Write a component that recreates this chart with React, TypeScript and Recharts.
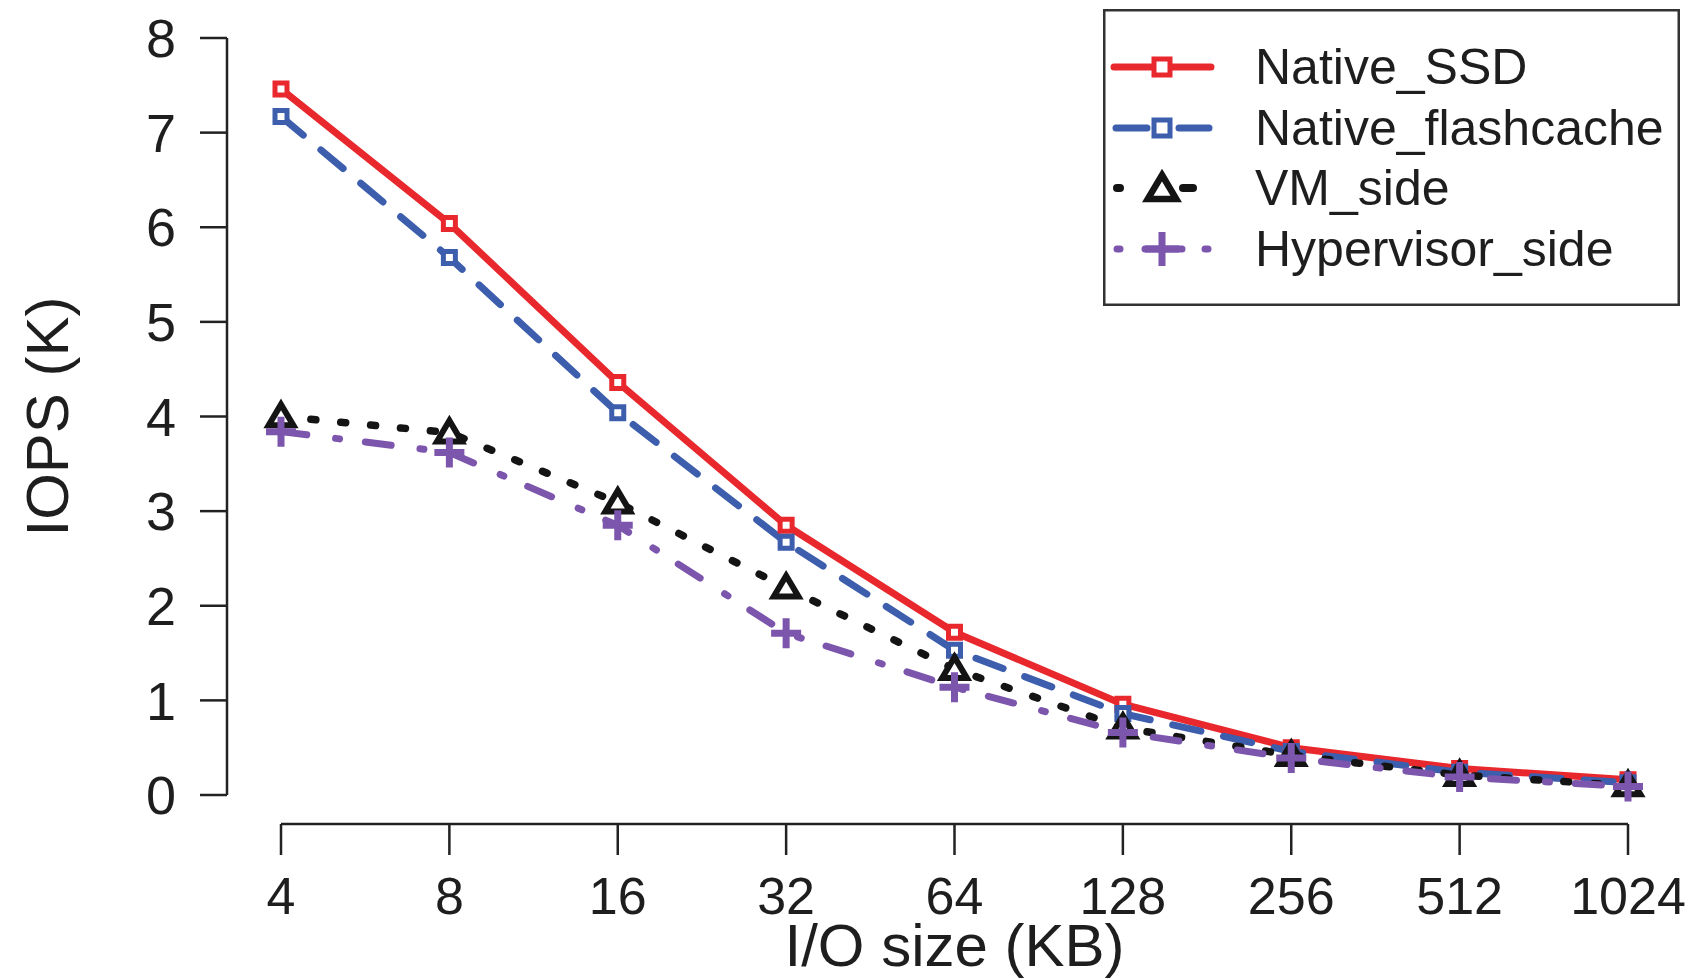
import React from 'react';
import { LineChart, Line, XAxis, YAxis, Legend, ReferenceLine, Label } from 'recharts';

// ---- data ----
const ioSizes = ['4', '8', '16', '32', '64', '128', '256', '512', '1024'];
const nativeSSD = [7.46, 6.04, 4.36, 2.85, 1.72, 0.96, 0.5, 0.28, 0.16];
const nativeFlashcache = [7.17, 5.68, 4.04, 2.67, 1.53, 0.86, 0.46, 0.24, 0.13];
const vmSide = [4.0, 3.83, 3.09, 2.19, 1.33, 0.71, 0.42, 0.21, 0.1];
const hypervisorSide = [3.84, 3.62, 2.85, 1.71, 1.14, 0.66, 0.39, 0.19, 0.09];
const yTicks = [0, 1, 2, 3, 4, 5, 6, 7, 8];
const seriesNames = ['Native_SSD', 'Native_flashcache', 'VM_side', 'Hypervisor_side'];
const xTitle = 'I/O size (KB)';
const yTitle = 'IOPS (K)';

const data = ioSizes.map((s, i) => ({
  size: s,
  nativeSSD: nativeSSD[i],
  nativeFlashcache: nativeFlashcache[i],
  vmSide: vmSide[i],
  hypervisorSide: hypervisorSide[i],
}));

// ---- style ----
const FONT = '"Liberation Sans", Arial, Helvetica, sans-serif';
const RED = '#e8282c';
const BLUE = '#3d5ead';
const BLACK = '#141414';
const PURPLE = '#7c55ad';
const AXIS = '#222';
const TEXT = '#1e1e1e';
const X_AXIS_LINE_AT = -0.3066; // R-style detached x axis, below 0

const squarePath = (cx: number, cy: number, h: number) =>
  `M${cx - h},${cy - h} H${cx + h} V${cy + h} H${cx - h} Z`;
const triPath = (cx: number, cy: number, r: number) =>
  `M${cx},${cy - r} L${cx + r * 0.95},${cy + r * 0.6} L${cx - r * 0.95},${cy + r * 0.6} Z`;
const plusPath = (cx: number, cy: number, r: number) =>
  `M${cx - r},${cy} H${cx + r} M${cx},${cy - r} V${cy + r}`;

const squareDot = (color: string) => (p: any) => {
  const { cx, cy, index } = p;
  if (cx == null || cy == null) return <g key={`sq-${color}-${index}`} />;
  return (
    <path key={`sq-${color}-${index}`} d={squarePath(cx, cy, 6)} fill="#fff" stroke={color} strokeWidth={5} />
  );
};
const triDot = (p: any) => {
  const { cx, cy, index } = p;
  if (cx == null || cy == null) return <g key={`tri-${index}`} />;
  return (
    <path key={`tri-${index}`} d={triPath(cx, cy + 1, 13)} fill="#fff" stroke={BLACK} strokeWidth={6} strokeLinejoin="miter" />
  );
};
const plusDot = (p: any) => {
  const { cx, cy, index } = p;
  if (cx == null || cy == null) return <g key={`plus-${index}`} />;
  return <path key={`plus-${index}`} d={plusPath(cx, cy, 15)} fill="none" stroke={PURPLE} strokeWidth={7} />;
};

const renderXTick = (p: any) => {
  const { x, y, payload } = p;
  return (
    <g>
      <line x1={x} x2={x} y1={y + 29} y2={y + 60} stroke={AXIS} strokeWidth={2.5} />
      <text x={x} y={y + 119} textAnchor="middle" fontSize={52} fill={TEXT} fontFamily={FONT}>
        {payload.value}
      </text>
    </g>
  );
};

const renderXTitle = (p: any) => {
  const vb = p.viewBox || {};
  return (
    <text x={vb.x + vb.width / 2} y={vb.y + 171} textAnchor="middle" fontSize={60} fill={TEXT} fontFamily={FONT}>
      {xTitle}
    </text>
  );
};

const renderYTitle = (p: any) => {
  const vb = p.viewBox || {};
  const x = vb.x + 68;
  const y = vb.y + vb.height / 2;
  return (
    <text x={x} y={y} transform={`rotate(-90, ${x}, ${y})`} textAnchor="middle" fontSize={60} fill={TEXT} fontFamily={FONT}>
      {yTitle}
    </text>
  );
};

const LegendBox = () => {
  const rows = [58, 119, 179, 240];
  const mx = 59;
  const tx = 152;
  return (
    <svg width={577} height={297} style={{ display: 'block' }}>
      <rect x={1.25} y={1.25} width={574.5} height={294.5} fill="#fff" stroke="#333" strokeWidth={2.5} />
      {/* Native_SSD */}
      <line x1={11} x2={108} y1={rows[0]} y2={rows[0]} stroke={RED} strokeWidth={7} strokeLinecap="round" />
      <path d={squarePath(mx, rows[0], 8)} fill="#fff" stroke={RED} strokeWidth={5} />
      {/* Native_flashcache */}
      <line x1={13} x2={44} y1={rows[1]} y2={rows[1]} stroke={BLUE} strokeWidth={7} strokeLinecap="round" />
      <line x1={76} x2={106} y1={rows[1]} y2={rows[1]} stroke={BLUE} strokeWidth={7} strokeLinecap="round" />
      <path d={squarePath(mx, rows[1], 8)} fill="#fff" stroke={BLUE} strokeWidth={5} />
      {/* VM_side */}
      <line x1={14} x2={17} y1={rows[2]} y2={rows[2]} stroke={BLACK} strokeWidth={8} strokeLinecap="round" />
      <line x1={80} x2={90} y1={rows[2]} y2={rows[2]} stroke={BLACK} strokeWidth={8} strokeLinecap="round" />
      <path d={triPath(mx, rows[2] + 2, 15)} fill="#fff" stroke={BLACK} strokeWidth={6.5} />
      {/* Hypervisor_side */}
      <line x1={14} x2={17} y1={rows[3]} y2={rows[3]} stroke={PURPLE} strokeWidth={7} strokeLinecap="round" />
      <line x1={42} x2={79} y1={rows[3]} y2={rows[3]} stroke={PURPLE} strokeWidth={7} strokeLinecap="round" />
      <line x1={102} x2={105} y1={rows[3]} y2={rows[3]} stroke={PURPLE} strokeWidth={7} strokeLinecap="round" />
      <path d={plusPath(mx, rows[3], 17)} fill="none" stroke={PURPLE} strokeWidth={7} />
      {seriesNames.map((n, i) => (
        <text key={n} x={tx} y={rows[i]} dominantBaseline="central" fontSize={50} fill={TEXT} fontFamily={FONT}>
          {n}
        </text>
      ))}
    </svg>
  );
};

export default function App() {
  return (
    <div style={{ position: 'absolute', left: 0, top: 0, width: 1696, height: 979, background: '#fff' }}>
      <LineChart width={1696} height={979} data={data} margin={{ top: 38, right: 14, bottom: 0, left: 0 }}>
        <XAxis
          dataKey="size"
          type="category"
          padding={{ left: 54, right: 54 }}
          axisLine={false}
          tickLine={false}
          tickSize={0}
          tickMargin={0}
          interval={0}
          height={184}
          tick={renderXTick}
        >
          <Label content={renderXTitle} />
        </XAxis>
        <YAxis
          type="number"
          domain={[0, 8]}
          ticks={yTicks}
          interval={0}
          width={227}
          tickSize={27}
          tickMargin={24}
          axisLine={{ stroke: AXIS, strokeWidth: 2.5 }}
          tickLine={{ stroke: AXIS, strokeWidth: 2.5 }}
          tick={{ fontSize: 54, fill: TEXT, fontFamily: FONT }}
        >
          <Label content={renderYTitle} />
        </YAxis>
        <ReferenceLine
          segment={[
            { x: ioSizes[0], y: X_AXIS_LINE_AT },
            { x: ioSizes[ioSizes.length - 1], y: X_AXIS_LINE_AT },
          ]}
          stroke={AXIS}
          strokeWidth={2.5}
          ifOverflow="visible"
        />
        <Line
          dataKey="nativeSSD"
          name={seriesNames[0]}
          type="linear"
          stroke={RED}
          strokeWidth={7}
          strokeLinejoin="round"
          dot={squareDot(RED)}
          activeDot={false}
          isAnimationActive={false}
        />
        <Line
          dataKey="nativeFlashcache"
          name={seriesNames[1]}
          type="linear"
          stroke={BLUE}
          strokeWidth={7}
          strokeDasharray="29 23"
          strokeLinecap="round"
          dot={squareDot(BLUE)}
          activeDot={false}
          isAnimationActive={false}
        />
        <Line
          dataKey="vmSide"
          name={seriesNames[2]}
          type="linear"
          stroke={BLACK}
          strokeWidth={7.5}
          strokeDasharray="5 25"
          strokeLinecap="round"
          dot={triDot}
          activeDot={false}
          isAnimationActive={false}
        />
        <Line
          dataKey="hypervisorSide"
          name={seriesNames[3]}
          type="linear"
          stroke={PURPLE}
          strokeWidth={7}
          strokeDasharray="26 29 4 26"
          strokeLinecap="round"
          dot={plusDot}
          activeDot={false}
          isAnimationActive={false}
        />
        <Legend
          layout="vertical"
          align="center"
          verticalAlign="middle"
          content={() => <LegendBox />}
          wrapperStyle={{ left: 1103, top: 9, width: 577, height: 297 }}
        />
      </LineChart>
    </div>
  );
}
